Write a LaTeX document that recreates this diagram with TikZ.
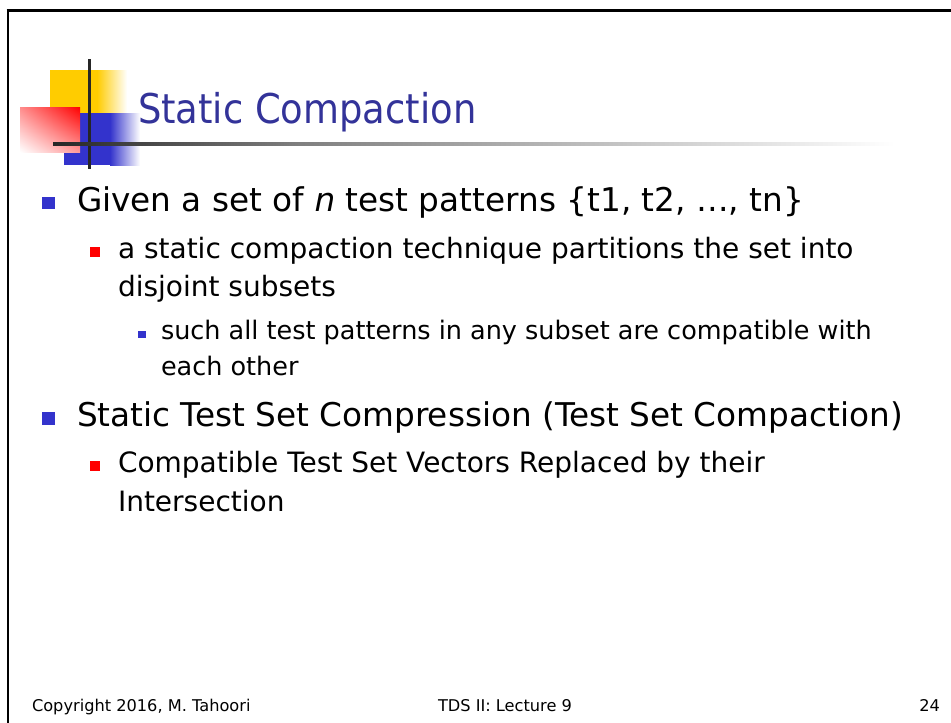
\documentclass[tikz,border=0pt]{standalone}
\usepackage{fontspec}
\usetikzlibrary{shadings}
\setmainfont{DejaVu Sans}
\definecolor{titleblue}{HTML}{333399}
\definecolor{bulblue}{HTML}{3333CC}
\definecolor{logoyellow}{HTML}{FFCC00}
\definecolor{logored}{HTML}{FF0000}
\begin{document}
\begin{tikzpicture}[x=1pt,y=-1pt,
  txt/.style={anchor=base west, inner sep=0pt, outer sep=0pt},
  titletxt/.style={txt, text=titleblue, font=\fontsize{41}{48}\selectfont},
  lone/.style={txt, font=\fontsize{32.7}{40}\selectfont},
  ltwo/.style={txt, font=\fontsize{28}{36}\selectfont},
  lthree/.style={txt, font=\fontsize{25.5}{32}\selectfont},
  foot/.style={txt, font=\fontsize{16.2}{20}\selectfont},
  bulone/.style={fill=bulblue},
  bultwo/.style={fill=logored},
]
\useasboundingbox (0,0) rectangle (951,723);
% frame
\draw[line width=3pt] (6.5,10.5) -- (951,10.5);
\draw[line width=2pt] (8,9) -- (8,723);
% logo
\fill[logoyellow] (50,70) rectangle (97,115);
\shade[left color=logoyellow, right color=white] (97,70) rectangle (127,115);
\fill[bulblue] (64,113) rectangle (110,165);
\shade[left color=bulblue, right color=white] (110,113) rectangle (140,165);
\shade[upper left=logored!45, upper right=logored, lower left=white, lower right=logored!40] (20,107) rectangle (80,152);
\fill[black!85] (87.5,59) rectangle (90.5,169);
\shade[left color=black!85, right color=black!50] (53,142.5) rectangle (300,145.5);
\shade[left color=black!50, right color=white] (300,142.5) rectangle (895,145.5);
% title
\node[titletxt] (title) at (138,123) {\scalebox{0.9}[1]{Static Compaction}};
% bullets
\fill[bulone] (42,197) rectangle (55,209);
\node[lone] (l1) at (77,211) {Given a set of \textit{n} test patterns \{t1, t2, …, tn\}};
\fill[bultwo] (90,247) rectangle (100,257);
\node[ltwo] (l2) at (118,258) {a static compaction technique partitions the set into};
\node[ltwo] (l3) at (118,296) {disjoint subsets};
\fill[bulone] (138,331) rectangle (146,338);
\node[lthree] (l4) at (161,339) {such all test patterns in any subset are compatible with};
\node[lthree] (l5) at (161,375) {each other};
\fill[bulone] (42,412) rectangle (55,425);
\node[lone] (l6) at (77,426) {Static Test Set Compression (Test Set Compaction)};
\fill[bultwo] (90,461) rectangle (100,471);
\node[ltwo] (l7) at (118,472) {Compatible Test Set Vectors Replaced by their};
\node[ltwo] (l8) at (118,511) {Intersection};
% footer
\node[foot] (f1) at (32,711.5) {Copyright 2016, M. Tahoori};
\node[foot] (f2) at (438,711.5) {TDS II: Lecture 9};
\node[foot, anchor=base east] (f3) at (940,711.5) {24};
\end{tikzpicture}
\end{document}
